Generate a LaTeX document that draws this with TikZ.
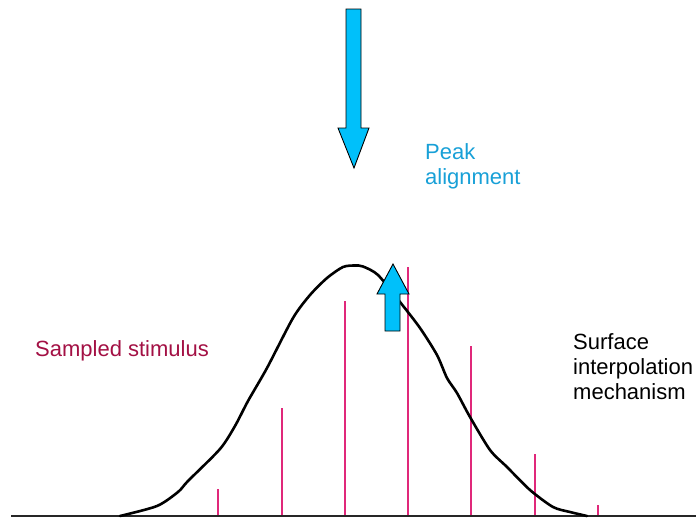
\documentclass[tikz,border=0pt]{standalone}
\usepackage{fontspec}
\setmainfont{Liberation Sans}
\definecolor{arrowfill}{RGB}{0,192,250}
\definecolor{peakblue}{RGB}{24,160,215}
\definecolor{samplemag}{RGB}{224,40,122}
\definecolor{stimred}{RGB}{163,16,68}
\tikzset{
  sample/.style={draw=samplemag, line width=2.4pt},
  bigarrow/.style={draw=black, line width=0.9pt, fill=arrowfill, line join=miter},
  lbl/.style={inner sep=0pt, align=left, font=\fontsize{22}{25}\selectfont},
}
\begin{document}
\begin{tikzpicture}[x=1pt, y=-1pt]
\useasboundingbox (0,0) rectangle (696,517);
% baseline
\coordinate (bl) at (11,516);
\coordinate (br) at (696,516);
\draw[line width=2pt, black!85] (bl) -- (br);
% samples
\foreach \nm/\xx/\yy in {s1/218/489, s2/282/408, s3/345/301, s4/408/267, s5/471/346, s6/535/454, s7/598/505} {
  \coordinate (\nm top) at (\xx,\yy);
  \coordinate (\nm bot) at (\xx,515);
  \draw[sample] (\nm top) -- (\nm bot);
}
% curve
\draw[line width=2.6pt, line join=round, line cap=round] plot[smooth, tension=0.45] coordinates {
 (120,516) (157,506) (178,492) (188,481) (220,449) (235,426) (248,401)
 (267,368) (293,318) (310,295) (327,278) (343,267) (355,265.5) (363,266.5)
 (378,275) (400,302) (420,328) (437,355) (447,378) (457,393) (470,417)
 (490,450) (507,467) (530,490) (553,507) (570,512) (587,516)};
% down arrow
\draw[bigarrow] (346,9) -- (361,9) -- (361,128) -- (369,128) -- (354,168)
  -- (338,128) -- (346,128) -- cycle;
% up arrow
\draw[bigarrow] (385,331) -- (400,331) -- (400,294) -- (409,294) -- (393,264)
  -- (377,294) -- (385,294) -- cycle;
% labels
\node[lbl, anchor=north west, text=peakblue] (peak) at (425,143.5) {Peak\\alignment};
\node[lbl, anchor=north west, text=black] (surf) at (573,333.5) {Surface\\interpolation\\mechanism};
\node[lbl, anchor=base west, text=stimred] (stim) at (35,356) {Sampled stimulus};
\end{tikzpicture}
\end{document}
